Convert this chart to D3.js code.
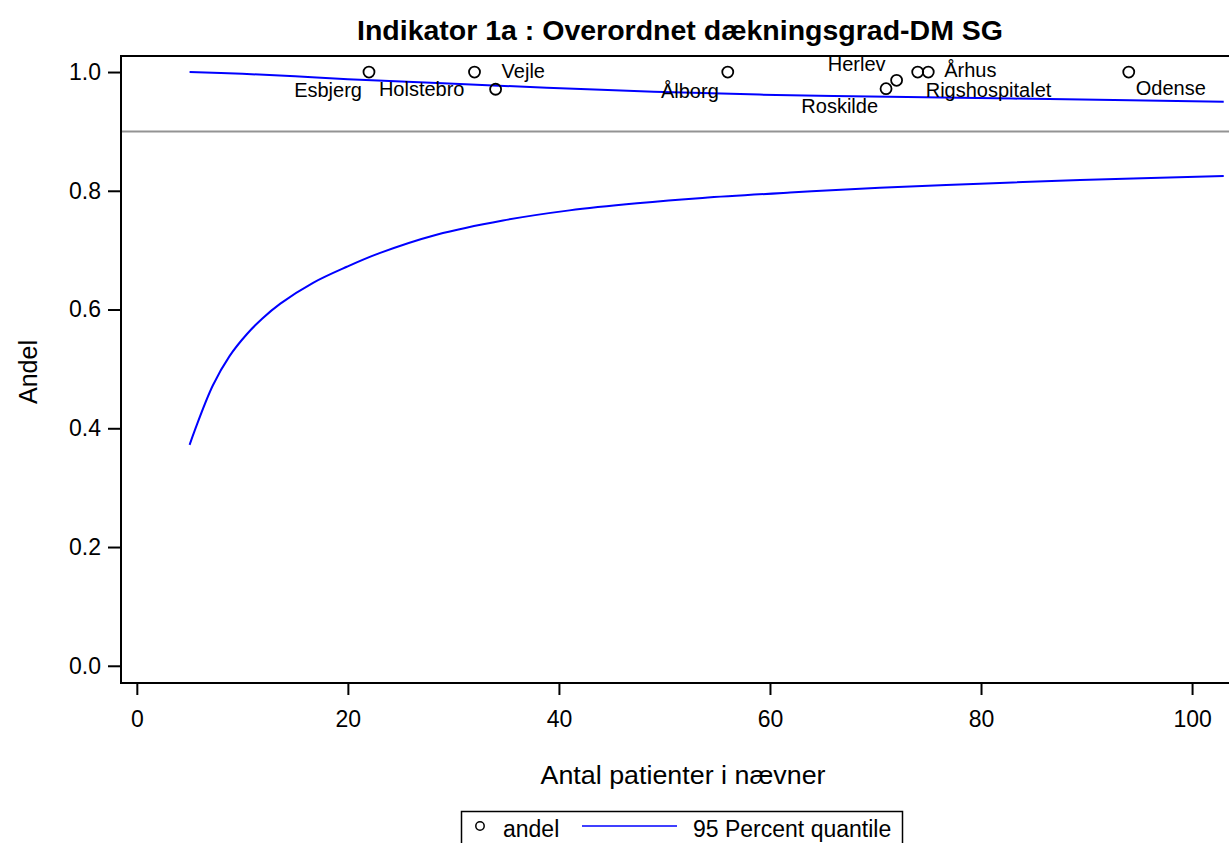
<!DOCTYPE html>
<html>
<head>
<meta charset="utf-8">
<script src="https://cdn.jsdelivr.net/npm/d3@7"></script>
<style>
  html, body { margin: 0; padding: 0; background: #fff; }
  svg { display: block; font-family: "Liberation Sans", Arial, sans-serif; }
</style>
</head>
<body>
<svg id="chart" width="1229" height="843"></svg>
<script>
// ---------- data ----------
const hospitals = ["Esbjerg", "Holstebro", "Vejle", "Ålborg", "Roskilde", "Herlev", "Rigshospitalet", "Århus", "Odense"];
const patients  = [22, 32, 34, 56, 71, 72, 74, 75, 94];
const andel     = [1.0, 1.0, 0.971, 1.0, 0.972, 0.986, 1.0, 1.0, 1.0];

const upperN    = [5, 10, 15, 20, 29, 44, 59, 73, 88, 103];
const upperVals = [1.0, 0.997, 0.993, 0.988, 0.981, 0.970, 0.962, 0.958, 0.954, 0.950];

const lowerN    = [5, 5.5, 7.2, 8.8, 10.4, 11.9, 13.6, 16.7, 19.9, 23.0, 28.4, 34.7, 41.0, 47.4, 53.6, 61.9, 70.4, 79.9, 89.4, 103];
const lowerVals = [0.372, 0.397, 0.472, 0.522, 0.558, 0.585, 0.610, 0.645, 0.672, 0.695, 0.726, 0.750, 0.767, 0.779, 0.788, 0.797, 0.805, 0.812, 0.818, 0.825];

const targetLevel = 0.9;
const xTicks = [0, 20, 40, 60, 80, 100];
const yTicks = [0.0, 0.2, 0.4, 0.6, 0.8, 1.0];

const titleText  = "Indikator 1a : Overordnet dækningsgrad-DM SG";
const xTitleText = "Antal patienter i nævner";
const yTitleText = "Andel";
const legendLabels = ["andel", "95 Percent quantile"];

// ---------- label placement (style, not data) ----------
const labelPlacement = {
  "Esbjerg":        {dx: -7,  dy: 25, anchor: "end"},
  "Holstebro":      {dx: -10, dy: 24, anchor: "end"},
  "Vejle":          {dx: 6,   dy: -11, anchor: "start"},
  "Ålborg":         {dx: -9,  dy: 26, anchor: "end"},
  "Roskilde":       {dx: -8,  dy: 24, anchor: "end"},
  "Herlev":         {dx: -11, dy: -9, anchor: "end"},
  "Rigshospitalet": {dx: 8,   dy: 25, anchor: "start"},
  "Århus":          {dx: 16,  dy: 5,  anchor: "start"},
  "Odense":         {dx: 7,   dy: 23, anchor: "start"}
};

// ---------- layout ----------
const plotL = 121, plotR = 1229, plotT = 56, plotB = 683;
const svg = d3.select("#chart");

const x = d3.scaleLinear().domain([-1.5, 103.5]).range([plotL, plotR]);
const y = d3.scaleLinear().domain([-0.029, 1.027]).range([plotB, plotT]);

svg.append("defs").append("clipPath").attr("id", "clip")
  .append("rect").attr("x", plotL).attr("y", plotT).attr("width", plotR - plotL).attr("height", plotB - plotT);

// reference line at 0.9
svg.append("line")
  .attr("x1", plotL).attr("x2", plotR)
  .attr("y1", y(targetLevel)).attr("y2", y(targetLevel))
  .attr("stroke", "#939393").attr("stroke-width", 2);

// quantile curves
const line = d3.line().x(d => x(d[0])).y(d => y(d[1])).curve(d3.curveCatmullRom.alpha(0.5));
const curves = svg.append("g").attr("clip-path", "url(#clip)");
curves.append("path")
  .attr("d", line(upperN.map((n, i) => [n, upperVals[i]])))
  .attr("fill", "none").attr("stroke", "#0000ff").attr("stroke-width", 2);
curves.append("path")
  .attr("d", line(lowerN.map((n, i) => [n, lowerVals[i]])))
  .attr("fill", "none").attr("stroke", "#0000ff").attr("stroke-width", 2);

// points
const pts = hospitals.map((h, i) => ({name: h, n: patients[i], v: andel[i]}));
svg.append("g").selectAll("circle").data(pts).join("circle")
  .attr("cx", d => x(d.n)).attr("cy", d => y(d.v)).attr("r", 5.5)
  .attr("fill", "none").attr("stroke", "#000").attr("stroke-width", 1.8);

svg.append("g").selectAll("text").data(pts).join("text")
  .attr("x", d => x(d.n) + labelPlacement[d.name].dx)
  .attr("y", d => y(d.v) + labelPlacement[d.name].dy)
  .attr("text-anchor", d => labelPlacement[d.name].anchor)
  .attr("font-size", 20).attr("fill", "#000")
  .text(d => d.name);

// axes
const yAxis = d3.axisLeft(y).tickValues(yTicks).tickFormat(d3.format(".1f")).tickSize(13).tickPadding(7);
const gy = svg.append("g").attr("transform", `translate(${plotL},0)`).call(yAxis);
gy.select(".domain").remove();
gy.selectAll(".tick line").attr("stroke", "#000").attr("stroke-width", 2);
gy.selectAll(".tick text").attr("font-size", 23).attr("fill", "#000").attr("font-family", "Liberation Sans, Arial, sans-serif");

const xAxis = d3.axisBottom(x).tickValues(xTicks).tickFormat(d3.format("d")).tickSize(12).tickPadding(16);
const gx = svg.append("g").attr("transform", `translate(0,${plotB})`).call(xAxis);
gx.select(".domain").remove();
gx.selectAll(".tick line").attr("stroke", "#000").attr("stroke-width", 2);
gx.selectAll(".tick text").attr("font-size", 23).attr("fill", "#000").attr("font-family", "Liberation Sans, Arial, sans-serif");

// frame
svg.append("path")
  .attr("d", `M${plotR},${plotT}H${plotL}V${plotB}H${plotR}`)
  .attr("fill", "none").attr("stroke", "#000").attr("stroke-width", 2);

// titles
svg.append("text").attr("x", 680).attr("y", 40).attr("text-anchor", "middle")
  .attr("font-size", 27).attr("font-weight", "bold")
  .attr("textLength", 646).attr("lengthAdjust", "spacingAndGlyphs")
  .text(titleText);

svg.append("text").attr("x", 683).attr("y", 784).attr("text-anchor", "middle")
  .attr("font-size", 26).attr("textLength", 285).attr("lengthAdjust", "spacingAndGlyphs")
  .text(xTitleText);

svg.append("text").attr("transform", "translate(37,372) rotate(-90)").attr("text-anchor", "middle")
  .attr("font-size", 26).attr("textLength", 64).attr("lengthAdjust", "spacingAndGlyphs")
  .text(yTitleText);

// legend
const lg = svg.append("g");
lg.append("rect").attr("x", 461.5).attr("y", 811.5).attr("width", 441).attr("height", 45)
  .attr("fill", "none").attr("stroke", "#000").attr("stroke-width", 1.5);
lg.append("circle").attr("cx", 480).attr("cy", 826).attr("r", 4.2)
  .attr("fill", "none").attr("stroke", "#000").attr("stroke-width", 1.5);
lg.append("text").attr("x", 503).attr("y", 837).attr("font-size", 23).text(legendLabels[0]);
lg.append("line").attr("x1", 582).attr("x2", 677).attr("y1", 826).attr("y2", 826)
  .attr("stroke", "#0000ff").attr("stroke-width", 1.5);
lg.append("text").attr("x", 693).attr("y", 837).attr("font-size", 23).text(legendLabels[1]);
</script>
</body>
</html>
